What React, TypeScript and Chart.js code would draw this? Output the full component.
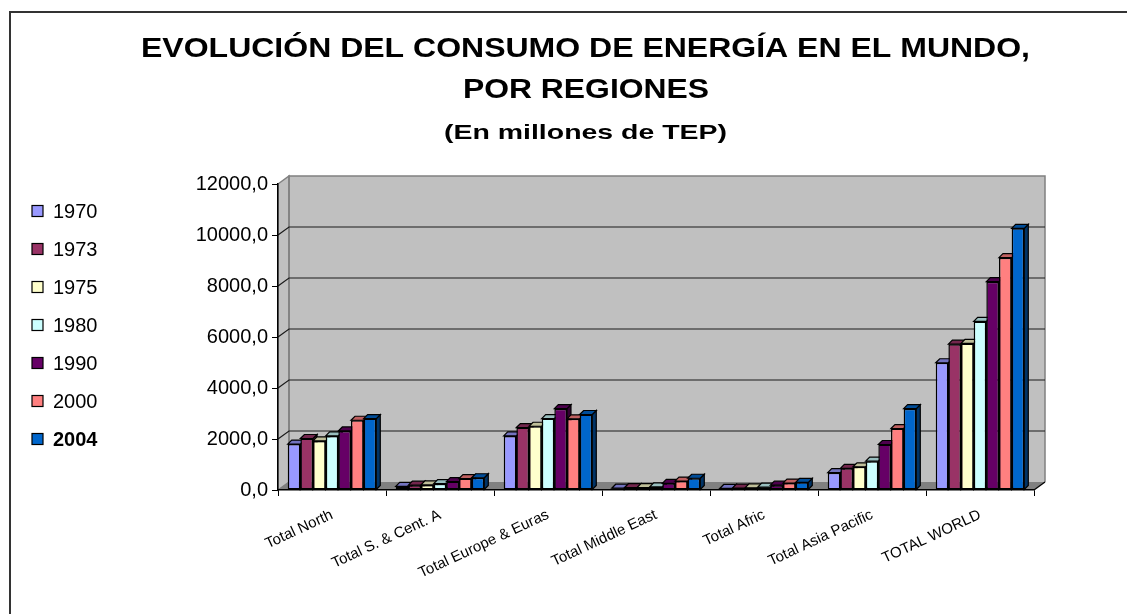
import React, { useEffect, useRef } from 'react';
import { Chart, registerables } from 'chart.js';

Chart.register(...registerables);

const categories = [
  'Total North',
  'Total S. & Cent. A',
  'Total Europe & Euras',
  'Total Middle East',
  'Total Afric',
  'Total Asia Pacific',
  'TOTAL WORLD',
];
const years = ['1970', '1973', '1975', '1980', '1990', '2000', '2004'];
const v1970 = [1800, 140, 2120, 70, 60, 680, 4990];
const v1973 = [2020, 190, 2450, 90, 75, 850, 5720];
const v1975 = [1925, 200, 2500, 95, 85, 910, 5750];
const v1980 = [2120, 250, 2800, 120, 110, 1130, 6610];
const v1990 = [2315, 330, 3190, 260, 190, 1785, 8170];
const v2000 = [2735, 450, 2790, 350, 270, 2410, 9110];
const v2004 = [2800, 480, 2960, 460, 300, 3190, 10260];
const seriesValues = [v1970, v1973, v1975, v1980, v1990, v2000, v2004];
const seriesColors = ['#9999FF', '#993366', '#FFFFCC', '#CCFFFF', '#660066', '#FF8080', '#0066CC'];
const yTickValues = [0, 2000, 4000, 6000, 8000, 10000, 12000];

const titleLine1 = 'EVOLUCIÓN DEL CONSUMO DE ENERGÍA EN EL MUNDO,';
const titleLine2 = 'POR REGIONES';
const subtitle = '(En millones de TEP)';

const FONT = 'Arial, "Liberation Sans", sans-serif';
const DX = 11;
const DY = 8;
const BD = 4;

function shade(hex: string, f: number): string {
  const n = parseInt(hex.slice(1), 16);
  const r = Math.round(((n >> 16) & 255) * f);
  const g = Math.round(((n >> 8) & 255) * f);
  const b = Math.round((n & 255) * f);
  return `rgb(${r},${g},${b})`;
}

function fitText(ctx: CanvasRenderingContext2D, text: string, cx: number, baseline: number, font: string, targetW: number) {
  ctx.save();
  ctx.font = font;
  const w = ctx.measureText(text).width;
  const s = targetW / w;
  ctx.translate(cx, baseline);
  ctx.scale(s, 1);
  ctx.textAlign = 'center';
  ctx.textBaseline = 'alphabetic';
  ctx.fillStyle = '#000';
  ctx.fillText(text, 0, 0);
  ctx.restore();
}

const decorPlugin = {
  id: 'decor3d',
  beforeDraw(chart: any) {
    const { ctx, chartArea: a, scales } = chart;
    const y = scales.y;
    ctx.save();
    ctx.fillStyle = '#ffffff';
    ctx.fillRect(0, 0, chart.width, chart.height);
    // outer frame
    ctx.strokeStyle = '#333';
    ctx.lineWidth = 2;
    ctx.beginPath();
    ctx.moveTo(10, chart.height + 5);
    ctx.lineTo(10, 12);
    ctx.lineTo(chart.width + 5, 12);
    ctx.stroke();

    // back wall
    ctx.fillStyle = '#C0C0C0';
    ctx.fillRect(a.left + DX, a.top - DY, a.right - a.left, a.bottom - a.top);
    // side wall
    ctx.beginPath();
    ctx.moveTo(a.left, a.top);
    ctx.lineTo(a.left + DX, a.top - DY);
    ctx.lineTo(a.left + DX, a.bottom - DY);
    ctx.lineTo(a.left, a.bottom);
    ctx.closePath();
    ctx.fill();
    ctx.strokeStyle = '#808080';
    ctx.lineWidth = 1.5;
    ctx.stroke();
    // wall outline
    ctx.beginPath();
    ctx.moveTo(a.left + DX, a.bottom - DY);
    ctx.lineTo(a.left + DX, a.top - DY);
    ctx.lineTo(a.right + DX, a.top - DY);
    ctx.lineTo(a.right + DX, a.bottom - DY);
    ctx.stroke();

    // gridlines
    ctx.strokeStyle = '#1a1a1a';
    ctx.lineWidth = 1.2;
    yTickValues.forEach((v) => {
      if (v === 0 || v === 12000) return;
      const py = y.getPixelForValue(v);
      ctx.beginPath();
      ctx.moveTo(a.left, py);
      ctx.lineTo(a.left + DX, py - DY);
      ctx.lineTo(a.right + DX, py - DY);
      ctx.stroke();
    });

    // floor
    ctx.fillStyle = '#808080';
    ctx.beginPath();
    ctx.moveTo(a.left, a.bottom);
    ctx.lineTo(a.left + DX, a.bottom - DY);
    ctx.lineTo(a.right + DX, a.bottom - DY);
    ctx.lineTo(a.right, a.bottom);
    ctx.closePath();
    ctx.fill();
    ctx.strokeStyle = '#000';
    ctx.lineWidth = 1.2;
    ctx.beginPath();
    ctx.moveTo(a.right, a.bottom);
    ctx.lineTo(a.right + DX, a.bottom - DY);
    ctx.stroke();
    ctx.restore();
  },
  beforeDatasetsDraw(chart: any) {
    const { ctx } = chart;
    ctx.save();
    ctx.lineWidth = 1.2;
    ctx.strokeStyle = '#000';
    chart.data.datasets.forEach((ds: any, i: number) => {
      const meta = chart.getDatasetMeta(i);
      const col = seriesColors[i];
      meta.data.forEach((bar: any) => {
        const { x, y, base, width } = bar.getProps(['x', 'y', 'base', 'width'], true);
        const l = x - width / 2;
        const r = x + width / 2;
        // side face
        ctx.fillStyle = shade(col, 0.5);
        ctx.beginPath();
        ctx.moveTo(r, y);
        ctx.lineTo(r + BD, y - BD);
        ctx.lineTo(r + BD, base - BD);
        ctx.lineTo(r, base);
        ctx.closePath();
        ctx.fill();
        ctx.stroke();
        // top face
        ctx.fillStyle = shade(col, 0.75);
        ctx.beginPath();
        ctx.moveTo(l, y);
        ctx.lineTo(l + BD, y - BD);
        ctx.lineTo(r + BD, y - BD);
        ctx.lineTo(r, y);
        ctx.closePath();
        ctx.fill();
        ctx.stroke();
      });
    });
    ctx.restore();
  },
  afterDraw(chart: any) {
    const { ctx } = chart;
    // titles
    fitText(ctx, titleLine1, 585.5, 57, `bold 27px ${FONT}`, 889);
    fitText(ctx, titleLine2, 586, 98, `bold 27px ${FONT}`, 246);
    fitText(ctx, subtitle, 585.5, 139, `bold 21px ${FONT}`, 283);

    // legend
    ctx.save();
    chart.data.datasets.forEach((ds: any, i: number) => {
      const cy = 211 + i * 38;
      ctx.fillStyle = ds.backgroundColor;
      ctx.fillRect(32, cy - 5.5, 11, 11);
      ctx.strokeStyle = '#000';
      ctx.lineWidth = 1.2;
      ctx.strokeRect(32, cy - 5.5, 11, 11);
      ctx.fillStyle = '#000';
      ctx.font = `${i === chart.data.datasets.length - 1 ? 'bold ' : ''}20px ${FONT}`;
      ctx.textAlign = 'left';
      ctx.textBaseline = 'alphabetic';
      ctx.fillText(ds.label, 53, cy + 6.5);
    });
    ctx.restore();
  },
};

export default function App() {
  const ref = useRef<HTMLCanvasElement | null>(null);
  useEffect(() => {
    if (!ref.current) return;
    const chart = new Chart(ref.current, {
      type: 'bar',
      data: {
        labels: categories,
        datasets: years.map((yr, i) => ({
          label: yr,
          data: seriesValues[i],
          backgroundColor: seriesColors[i],
          borderColor: '#000',
          borderWidth: 1.5,
          borderSkipped: false,
          categoryPercentage: 0.82,
          barPercentage: 1.0,
        })),
      },
      options: {
        responsive: false,
        animation: false,
        devicePixelRatio: 1,
        layout: { padding: { top: 184, right: 93, left: 0, bottom: 0 } },
        plugins: {
          legend: { display: false },
          title: { display: false },
          tooltip: { enabled: false },
        },
        scales: {
          x: {
            afterFit: (s: any) => {
              s.height = 124;
            },
            grid: { drawOnChartArea: false, drawTicks: true, tickLength: 6, color: '#000', offset: true },
            border: { color: '#000', width: 1.5 },
            ticks: {
              autoSkip: false,
              minRotation: 25,
              maxRotation: 25,
              padding: 10,
              color: '#000',
              font: { family: FONT, size: 15 },
            },
          },
          y: {
            min: 0,
            max: 12000,
            afterFit: (s: any) => {
              s.width = 278;
            },
            afterBuildTicks: (s: any) => {
              s.ticks = yTickValues.map((v) => ({ value: v }));
            },
            grid: { drawOnChartArea: false, drawTicks: true, tickLength: 6, color: '#000' },
            border: { color: '#000', width: 1.5 },
            ticks: {
              padding: 4,
              color: '#000',
              font: { family: FONT, size: 20 },
              callback: (v: any) => Number(v).toFixed(1).replace('.', ','),
            },
          },
        },
      },
      plugins: [decorPlugin],
    } as any);
    return () => chart.destroy();
  }, []);
  return (
    <div style={{ position: 'fixed', left: 0, top: 0, width: 1127, height: 614, background: '#fff' }}>
      <canvas ref={ref} width={1127} height={614} style={{ display: 'block' }} />
    </div>
  );
}
